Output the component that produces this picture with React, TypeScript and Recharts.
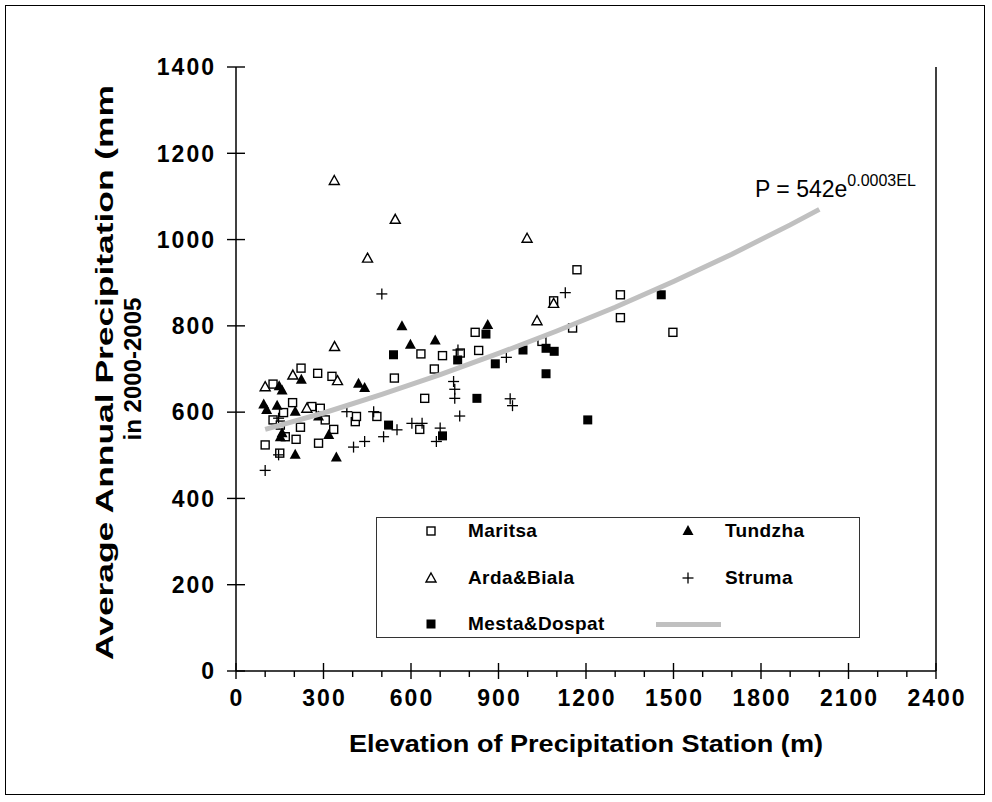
import { ScatterChart, Scatter, XAxis, YAxis, Label, ReferenceLine } from 'recharts'

type Pt = [number, number]

// elevation (m), precipitation (mm)
const maritsa: Pt[] = [
  [100, 524], [127, 582], [127, 665], [150, 505], [152, 570], [163, 599], [169, 543],
  [194, 622], [206, 537], [221, 565], [223, 702], [260, 613], [280, 690], [283, 528],
  [289, 609], [306, 582], [329, 683], [335, 560], [409, 578], [413, 590], [483, 590],
  [543, 679], [630, 560], [634, 735], [647, 632], [680, 700], [708, 731], [769, 737],
  [820, 785], [832, 743], [1049, 764], [1089, 858], [1154, 795], [1169, 930],
  [1318, 872], [1318, 819], [1498, 785],
]
const tundzha: Pt[] = [
  [95, 618], [105, 605], [141, 615], [148, 660], [158, 650], [152, 542], [158, 551],
  [203, 601], [203, 501], [224, 675], [283, 590], [318, 547], [344, 495], [420, 666],
  [441, 656], [569, 799], [598, 756], [683, 766], [863, 802],
]
const ardaBiala: Pt[] = [
  [100, 659], [195, 686], [243, 609], [338, 752], [337, 1137], [348, 673], [451, 957],
  [546, 1047], [998, 1003], [1032, 812], [1089, 852],
]
const struma: Pt[] = [
  [100, 465], [146, 586], [146, 501], [380, 601], [403, 519], [441, 532], [472, 601],
  [500, 874], [506, 543], [552, 559], [603, 574], [638, 574], [687, 532], [700, 563],
  [746, 671], [750, 653], [750, 632], [761, 744], [767, 591], [927, 727], [940, 631],
  [948, 615], [1129, 877],
]
const mestaDospat: Pt[] = [
  [523, 570], [540, 733], [708, 545], [760, 721], [826, 632], [857, 781], [889, 712],
  [984, 744], [1063, 748], [1063, 689], [1091, 741], [1206, 582], [1458, 872],
]

// trend curve read along the grey line
const trendX = [100, 300, 500, 700, 900, 1100, 1300, 1500, 1700, 1900, 2000]
const trendY = [560, 598, 641, 687, 736, 788, 843, 903, 966, 1034, 1070]

const xTicks = [
  0, 100, 200, 300, 400, 500, 600, 700, 800, 900, 1000, 1100, 1200, 1300, 1400, 1500,
  1600, 1700, 1800, 1900, 2000, 2100, 2200, 2300, 2400,
]
const yTicks = [0, 200, 400, 600, 800, 1000, 1200, 1400]

const FONT = '"Liberation Sans", Arial, sans-serif'

const toXY = (pts: Pt[]) => pts.map(([x, y]) => ({ x, y }))
const trend = trendX.map((x, i) => ({ x, y: trendY[i] }))

function OpenSquare({ cx, cy }: any) {
  return <rect x={cx - 4} y={cy - 4} width={8} height={8} fill="#fff" stroke="#000" strokeWidth={1.4} />
}
function FilledSquare({ cx, cy }: any) {
  return <rect x={cx - 4.5} y={cy - 4.5} width={9} height={9} fill="#000" />
}
function OpenTriangle({ cx, cy }: any) {
  return (
    <path d={`M${cx},${cy - 5} L${cx + 5},${cy + 4} L${cx - 5},${cy + 4} Z`}
      fill="#fff" stroke="#000" strokeWidth={1.4} />
  )
}
function FilledTriangle({ cx, cy }: any) {
  return <path d={`M${cx},${cy - 6} L${cx + 5.5},${cy + 4} L${cx - 5.5},${cy + 4} Z`} fill="#000" />
}
function Cross({ cx, cy }: any) {
  return (
    <g stroke="#000" strokeWidth={1.3}>
      <line x1={cx - 5.5} x2={cx + 5.5} y1={cy} y2={cy} />
      <line x1={cx} x2={cx} y1={cy - 5.5} y2={cy + 5.5} />
    </g>
  )
}

const tickText = { fontFamily: FONT, fontWeight: 'bold', fontSize: 23, letterSpacing: 2, fill: '#000' } as any

function XTick({ x, y, payload }: any) {
  const major = payload.value % 300 === 0
  return (
    <g>
      <line x1={x} x2={x} y1={major ? y - 8 : y} y2={y + (major ? 8 : 6)} stroke="#000" strokeWidth={1.4} />
      {major && (
        <text x={x + 1} y={y + 35} textAnchor="middle" style={tickText}>
          {payload.value}
        </text>
      )}
    </g>
  )
}

function YTick({ x, y, payload }: any) {
  return (
    <g>
      <line x1={x - 9} x2={x + 9} y1={y} y2={y} stroke="#000" strokeWidth={1.4} />
      <text x={x - 20} y={y} dy="0.36em" textAnchor="end" style={tickText}>
        {payload.value}
      </text>
    </g>
  )
}

function YTitle({ viewBox }: any) {
  const cy = viewBox ? viewBox.y + viewBox.height / 2 : 369
  const style = { fontFamily: FONT, fontWeight: 'bold', fontSize: 24, fill: '#000' } as any
  return (
    <g>
      <text transform={`translate(113, 660) rotate(-90)`} textAnchor="start" style={style}
        textLength={575} lengthAdjust="spacingAndGlyphs">
        Average Annual Precipitation (mm
      </text>
      <text transform={`translate(141, ${cy}) rotate(-90)`} textAnchor="middle" style={style}>
        in 2000-2005
      </text>
    </g>
  )
}

function XTitle({ viewBox }: any) {
  const cx = viewBox ? viewBox.x + viewBox.width / 2 : 586
  return (
    <text x={cx} y={752} textAnchor="middle" fontFamily={FONT} fontWeight="bold" fontSize={24} fill="#000"
      textLength={474} lengthAdjust="spacingAndGlyphs">
      Elevation of Precipitation Station (m)
    </text>
  )
}

const legendRows = [
  [{ name: 'Maritsa', shape: OpenSquare }, { name: 'Tundzha', shape: FilledTriangle }],
  [{ name: 'Arda&Biala', shape: OpenTriangle }, { name: 'Struma', shape: Cross }],
  [{ name: 'Mesta&Dospat', shape: FilledSquare }, { name: '', shape: null }],
]

function LegendBox() {
  return (
    <div
      style={{
        position: 'absolute', left: 376, top: 517, width: 484, height: 121,
        border: '1.5px solid #333', boxSizing: 'border-box', background: '#fff',
        fontFamily: FONT, fontWeight: 'bold', fontSize: 19, letterSpacing: 0.4,
      }}
    >
      {legendRows.map((row, r) =>
        row.map((item, c) => {
          const top = 13 + r * 46.5
          const left = c === 0 ? 54 : 311
          const Shape = item.shape as any
          return (
            <div key={`${r}-${c}`}>
              {Shape ? (
                <svg style={{ position: 'absolute', left: left - 8, top: top - 8 }} width={16} height={16}>
                  <Shape cx={8} cy={8} />
                </svg>
              ) : (
                <div style={{ position: 'absolute', left: 279, top: top - 2.5, width: 65, height: 5, background: '#c0c0c0' }} />
              )}
              {item.name && (
                <div style={{ position: 'absolute', left: left + 37, top: top - 12, lineHeight: '24px' }}>{item.name}</div>
              )}
            </div>
          )
        })
      )}
    </div>
  )
}

export default function App() {
  return (
    <div style={{ position: 'absolute', left: 0, top: 0, width: 992, height: 802, background: '#fff' }}>
      <div style={{ position: 'absolute', left: 5, top: 5, width: 980, height: 790, border: '1px solid #000', boxSizing: 'border-box' }} />
      <ScatterChart width={992} height={802} margin={{ top: 67, right: 56, bottom: 0, left: 0 }} style={{ position: 'absolute', left: 0, top: 0 }}>
        <XAxis
          type="number" dataKey="x" domain={[0, 2400]} ticks={xTicks} interval={0}
          tickSize={0} tickMargin={0} tickLine={false} tick={<XTick />}
          axisLine={{ stroke: '#000', strokeWidth: 1.5 }} height={131} allowDataOverflow
        >
          <Label content={<XTitle />} />
        </XAxis>
        <YAxis
          type="number" dataKey="y" domain={[0, 1400]} ticks={yTicks} interval={0}
          tickSize={0} tickMargin={0} tickLine={false} tick={<YTick />}
          axisLine={{ stroke: '#000', strokeWidth: 1.5 }} width={236} allowDataOverflow
        >
          <Label content={<YTitle />} />
        </YAxis>
        <ReferenceLine x={2400} stroke="#000" strokeWidth={1.5} />
        <Scatter name="Maritsa" data={toXY(maritsa)} shape={<OpenSquare />} isAnimationActive={false} />
        <Scatter name="Arda&Biala" data={toXY(ardaBiala)} shape={<OpenTriangle />} isAnimationActive={false} />
        <Scatter name="Struma" data={toXY(struma)} shape={<Cross />} isAnimationActive={false} />
        <Scatter name="Tundzha" data={toXY(tundzha)} shape={<FilledTriangle />} isAnimationActive={false} />
        <Scatter name="Mesta&Dospat" data={toXY(mestaDospat)} shape={<FilledSquare />} isAnimationActive={false} />
        <Scatter
          name="trend" data={trend} line={{ stroke: '#c0c0c0', strokeWidth: 5 }}
          shape={() => <g />} isAnimationActive={false}
        />
      </ScatterChart>
      <svg style={{ position: 'absolute', left: 0, top: 0, pointerEvents: 'none' }} width={992} height={802}>
        <text x={755} y={197} fontFamily={FONT} fontSize={23} fill="#000">
          P = 542e<tspan dy={-11} fontSize={16}>0.0003EL</tspan>
        </text>
      </svg>
      <LegendBox />
    </div>
  )
}
